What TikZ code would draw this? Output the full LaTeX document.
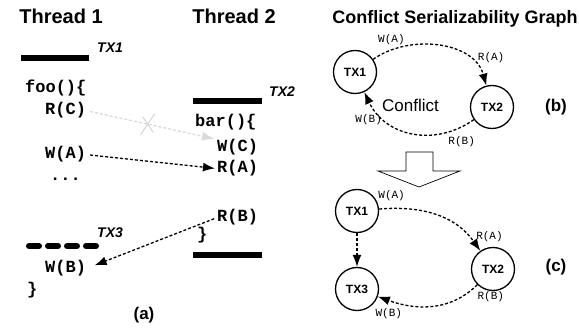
\documentclass[tikz,border=0pt]{standalone}
\usepackage{fontspec}
\setmainfont{Liberation Sans}
\setmonofont{Liberation Mono}
\usetikzlibrary{shapes,arrows.meta}

\tikzset{
  heading/.style={anchor=base, inner sep=0pt, font=\fontsize{20}{24}\selectfont\bfseries},
  code/.style={anchor=base west, inner sep=0pt, font=\fontsize{17}{20}\selectfont\ttfamily\bfseries},
  txlabel/.style={anchor=base west, inner sep=0pt, font=\fontsize{14}{16}\selectfont\bfseries\itshape},
  txbar/.style={line width=6pt},
  txnode/.style={draw, circle, line width=1.3pt, minimum size=43pt, inner sep=0pt, font=\fontsize{12}{14}\selectfont\bfseries},
  oplabel/.style={inner sep=1pt, font=\fontsize{11}{13}\selectfont\ttfamily},
  dep/.style={densely dashed, line width=1.3pt, -{Latex[length=12pt,width=9pt]}},
  sublabel/.style={anchor=base, inner sep=0pt, font=\fontsize{17}{20}\selectfont\bfseries}
}

\begin{document}
\begin{tikzpicture}[x=1pt,y=1pt]
 \useasboundingbox (0,0) rectangle (579,-331);

 \node (thread1) [heading] at (61,-24) {Thread 1};
 \node (thread2) [heading] at (234,-24) {Thread 2};
 \node (csgtitle) [heading, font=\fontsize{18}{22}\selectfont\bfseries] at (455,-24) {Conflict Serializability Graph};

 % thread 1
 \draw[txbar] (21,-58) -- (89,-58);
 \node (tx1lbl) [txlabel] at (97,-53) {TX1};
 \node (foo) [code] at (25,-93) {foo()\{};
 \node (rc) [code] at (45,-115) {R(C)};
 \node (wa) [code] at (45,-159) {W(A)};
 \node (dots) [code] at (50,-181) {...};
 \draw[txbar, dash pattern=on 10pt off 9pt, line cap=round] (29,-246) -- (97,-246);
 \node (tx3lbl) [txlabel] at (97,-238) {TX3};
 \node (wb) [code] at (45,-273) {W(B)};
 \node (fooend) [code] at (27,-295) {\}};
 \node (suba) [sublabel] at (144,-320) {(a)};

 % thread 2
 \draw[txbar] (193,-101) -- (262,-101);
 \node (tx2lbl) [txlabel] at (269,-97) {TX2};
 \node (bar) [code] at (195,-127) {bar()\{};
 \node (wc) [code] at (217,-152) {W(C)};
 \node (ra) [code] at (217,-173) {R(A)};
 \node (rb) [code] at (217,-222) {R(B)};
 \node (barend) [code] at (197,-240) {\}};
 \draw[txbar] (193,-255) -- (262,-255);

 \draw[dep, gray!30, shorten <=4pt, shorten >=3pt] (rc.east) -- (wc.north west)
   node[pos=0.47, draw, cross out, line width=1.2pt, minimum width=13pt, minimum height=20pt, inner sep=0pt, solid] (xmark) {};
 \draw[dep, shorten <=4pt, shorten >=2pt] (wa.east) -- (ra.west);
 \draw[dep, shorten <=3pt, shorten >=9pt] (rb.west) -- (wb.east);

 % graph (b)
 \node (b1) [txnode] at (355,-72) {TX1};
 \node (b2) [txnode] at (492,-107) {TX2};
 \node (conflict) [anchor=base west, inner sep=0pt, font=\fontsize{17}{20}\selectfont] at (382,-112) {Conflict};
 \draw[dep] (b1) to[out=35,in=105]
   node[oplabel, pos=0.15, above=3pt] {W(A)}
   node[oplabel, pos=0.82, above right=1pt] {R(A)} (b2);
 \draw[dep] (b2) to[out=-145,in=-65, looseness=1.1]
   node[oplabel, pos=0.1, below=8pt] {R(B)}
   node[oplabel, pos=0.74, left=2pt] {W(B)} (b1);
 \node (subb) [sublabel] at (556,-112) {(b)};

 % transformation arrow
 \draw[line width=0.7pt] (406,-152) -- (433,-152) -- (433,-171) -- (460,-171) -- (419,-187)
   -- (378,-171) -- (406,-171) -- cycle;

 % graph (c)
 \node (c1) [txnode] at (357,-211) {TX1};
 \node (c3) [txnode] at (357,-289) {TX3};
 \node (c2) [txnode] at (493,-269) {TX2};
 \draw[dep] (c1) -- (c3);
 \draw[dep] (c1) to[out=5,in=125]
   node[oplabel, pos=0.1, above=6pt] {W(A)}
   node[oplabel, pos=0.85, right=6pt] {R(A)} (c2);
 \draw[dep] (c2) to[out=-135,in=-20]
   node[oplabel, pos=0.04, below right=2pt] {R(B)}
   node[oplabel, pos=0.9, below=7pt] {W(B)} (c3);
 \node (subc) [sublabel] at (556,-272) {(c)};
\end{tikzpicture}
\end{document}
